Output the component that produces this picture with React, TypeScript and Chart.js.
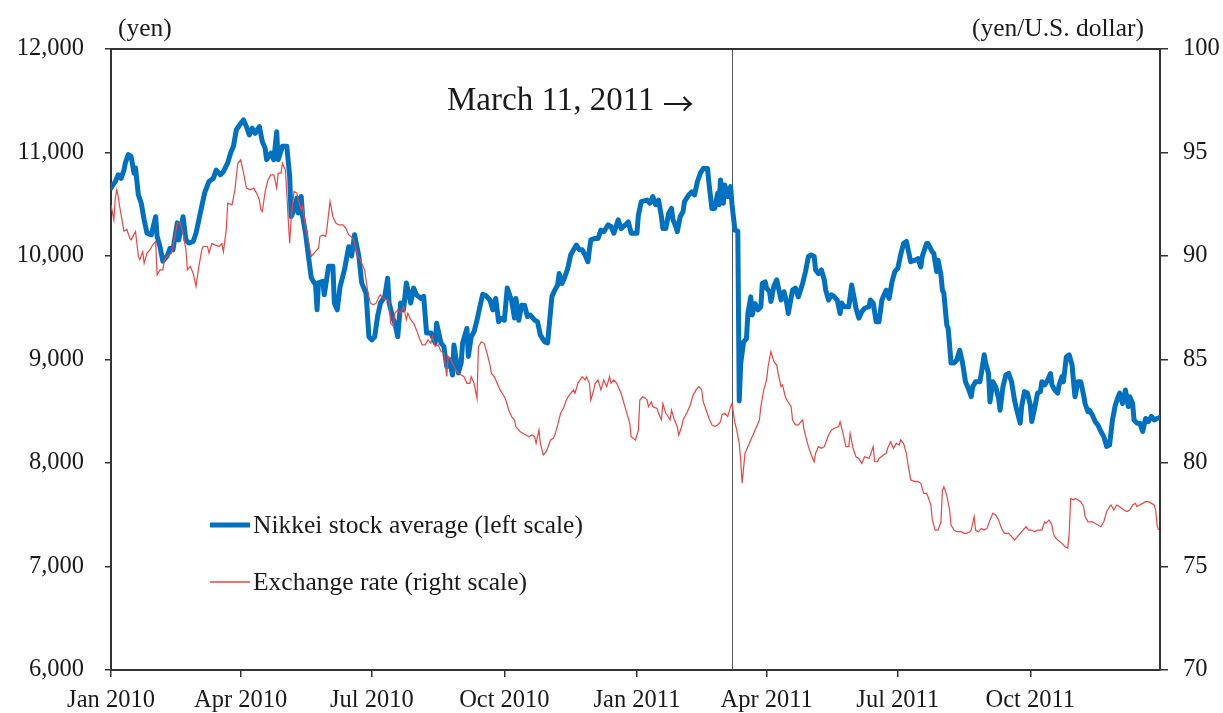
import React, { useEffect, useRef } from 'react';
import { Chart, registerables } from 'chart.js';

Chart.register(...registerables);

// x values are days since 1 Jan 2010
const tickDays = [0, 90, 181, 273, 365, 455, 546, 638];
const tickLabels = ['Jan 2010', 'Apr 2010', 'Jul 2010', 'Oct 2010', 'Jan 2011', 'Apr 2011', 'Jul 2011', 'Oct 2011'];
const xMax = 728;
const quakeLineDay = 431;

const leftMin = 6000;
const leftMax = 12000;
const leftStep = 1000;
const rightMin = 70;
const rightMax = 100;
const rightStep = 5;

// Nikkei stock average (yen, left scale)
const nikkeiDays = [
  0, 3, 5, 7, 9, 10, 12, 14, 16, 17, 19, 21, 23, 25, 28, 31, 32, 34, 36, 39, 41, 43, 46, 47, 50, 52, 54, 57, 59, 61,
  63, 65, 68, 71, 73, 76, 78, 81, 83, 85, 87, 90, 92, 94, 96, 98, 100, 103, 105, 107, 108, 111, 113, 115, 116, 119, 122, 124, 125, 127,
  129, 130, 132, 133, 135, 137, 139, 142, 143, 144, 147, 148, 151, 154, 155, 157, 159, 162, 165, 167, 169, 172, 174, 177, 179, 181, 183, 185, 187, 190,
  192, 193, 196, 197, 199, 201, 203, 205, 208, 210, 212, 215, 217, 219, 222, 225, 226, 229, 231, 233, 235, 237, 238, 241, 243, 244, 247, 248, 250, 252,
  254, 256, 258, 260, 263, 265, 267, 269, 270, 273, 275, 277, 278, 280, 281, 283, 285, 287, 289, 291, 294, 296, 298, 301, 303, 306, 308, 310, 311, 313,
  315, 317, 319, 321, 323, 325, 327, 329, 331, 332, 333, 336, 338, 340, 342, 345, 347, 349, 352, 354, 357, 359, 361, 365, 366, 368, 372, 374, 376, 378,
  380, 382, 383, 385, 387, 389, 390, 392, 393, 395, 397, 398, 401, 403, 405, 407, 409, 411, 414, 415, 417, 419, 421, 422, 423, 425, 426, 428, 430, 431,
  433, 435, 436, 437, 439, 441, 442, 444, 445, 447, 449, 451, 452, 454, 455, 457, 458, 460, 462, 463, 465, 467, 469, 470, 473, 475, 477, 480, 482, 484,
  486, 488, 489, 491, 493, 495, 496, 498, 500, 502, 504, 506, 507, 509, 512, 514, 516, 517, 519, 521, 523, 526, 527, 529, 531, 533, 535, 537, 538, 540,
  542, 544, 546, 548, 550, 552, 555, 558, 560, 562, 563, 566, 567, 570, 571, 573, 574, 576, 577, 578, 580, 581, 583, 585, 587, 589, 591, 593, 595, 597,
  598, 600, 603, 604, 606, 607, 609, 610, 612, 614, 616, 617, 619, 621, 623, 625, 627, 628, 631, 632, 634, 636, 638, 639, 641, 643, 645, 646, 648, 650,
  652, 653, 655, 657, 658, 660, 661, 663, 665, 667, 668, 669, 671, 673, 675, 676, 678, 679, 681, 683, 685, 687, 689, 691, 693, 695, 697, 699, 700, 702,
  704, 706, 707, 709, 710, 712, 714, 716, 718, 720, 722, 724, 726, 728,
];
const nikkeiValues = [
  10655, 10720, 10785, 10750, 10830, 10900, 10980, 10960, 10800, 10850, 10590, 10510, 10350, 10220, 10205, 10380, 10190, 10090, 9950, 10000, 10075, 10060, 10320, 10155, 10380, 10155, 10125, 10140, 10220, 10350,
  10480, 10610, 10720, 10750, 10830, 10785, 10815, 10900, 10995, 11060, 11220, 11280, 11315, 11250, 11170, 11235, 11185, 11250, 11105, 11040, 10930, 10995, 10930, 11200, 10930, 11060, 11060, 10770, 10380, 10445,
  10560, 10415, 10575, 10380, 10220, 10000, 9790, 9720, 9480, 9740, 9755, 9625, 9900, 9900, 9545, 9480, 9705, 9865, 10090, 10000, 10205, 10000, 9740, 9640, 9220, 9190, 9220, 9415, 9545, 9610,
  9785, 9545, 9385, 9350, 9220, 9545, 9480, 9740, 9545, 9690, 9625, 9590, 9610, 9255, 9255, 9160, 9350, 9160, 9125, 8930, 9000, 8850, 9140, 8870, 8965, 9160, 9300, 9030, 9220, 9270,
  9380, 9510, 9630, 9620, 9575, 9480, 9590, 9365, 9400, 9380, 9690, 9610, 9575, 9400, 9590, 9380, 9525, 9525, 9415, 9430, 9380, 9365, 9235, 9170, 9160, 9610, 9670, 9720, 9830, 9735,
  9800, 9880, 10010, 10060, 10105, 10060, 10060, 10010, 9945, 10060, 10155, 10170, 10170, 10250, 10235, 10300, 10285, 10220, 10350, 10265, 10300, 10330, 10220, 10220, 10395, 10525, 10540, 10510, 10575, 10495,
  10540, 10380, 10265, 10265, 10410, 10460, 10350, 10285, 10235, 10380, 10430, 10525, 10590, 10620, 10590, 10720, 10800, 10845, 10845, 10700, 10460, 10460, 10605, 10495, 10735, 10510, 10685, 10575, 10670, 10495,
  10250, 10240, 8600, 8960, 9170, 9200, 9445, 9605, 9430, 9540, 9480, 9510, 9735, 9750, 9690, 9655, 9560, 9705, 9770, 9705, 9575, 9655, 9540, 9445, 9670, 9690, 9605, 9735, 9850, 9995,
  10010, 9995, 9865, 9830, 9865, 9770, 9670, 9575, 9625, 9605, 9575, 9445, 9545, 9510, 9510, 9720, 9575, 9495, 9400, 9460, 9495, 9510, 9575, 9545, 9365, 9365, 9575, 9640, 9670, 9590,
  9750, 9850, 9880, 10010, 10120, 10140, 9945, 9960, 9975, 9895, 9995, 10120, 10120, 10040, 10025, 9850, 9960, 9815, 9670, 9640, 9335, 9300, 8965, 8965, 8995, 9090, 8965, 8785, 8720, 8640,
  8735, 8785, 8785, 8865, 9045, 8965, 8865, 8590, 8785, 8735, 8625, 8510, 8735, 8850, 8865, 8785, 8610, 8545, 8385, 8545, 8690, 8675, 8560, 8400, 8530, 8675, 8690, 8785, 8755, 8800,
  8865, 8755, 8705, 8675, 8755, 8835, 8785, 9025, 9045, 8945, 8785, 8640, 8785, 8785, 8655, 8575, 8495, 8510, 8465, 8400, 8365, 8305, 8255, 8160, 8175, 8415, 8560, 8640, 8675, 8575,
  8705, 8545, 8640, 8575, 8415, 8385, 8385, 8305, 8430, 8400, 8450, 8415, 8430, 8440,
];

// Exchange rate (yen per U.S. dollar, right scale)
const yenDays = [
  0, 2, 3, 4, 5, 6, 8, 9, 11, 13, 14, 17, 19, 20, 22, 23, 25, 27, 29, 31, 32, 34, 36, 37, 39, 42, 44, 46, 48, 50,
  52, 53, 55, 57, 59, 61, 63, 64, 67, 68, 70, 72, 75, 77, 78, 80, 81, 84, 86, 88, 90, 92, 94, 97, 99, 101, 103, 104, 105, 107,
  109, 111, 113, 115, 116, 118, 119, 121, 122, 123, 124, 125, 127, 129, 130, 132, 133, 135, 137, 139, 140, 142, 144, 145, 147, 149, 150, 152, 154, 156,
  158, 161, 163, 165, 168, 169, 171, 173, 174, 176, 178, 180, 182, 184, 186, 187, 189, 192, 193, 194, 196, 197, 199, 201, 203, 205, 206, 208, 210, 212,
  214, 216, 218, 220, 222, 223, 225, 227, 229, 231, 233, 234, 236, 238, 240, 241, 243, 245, 247, 249, 250, 252, 254, 255, 257, 259, 261, 263, 264, 266,
  268, 270, 273, 274, 276, 278, 280, 281, 284, 286, 288, 290, 292, 294, 295, 297, 298, 300, 302, 303, 305, 307, 308, 310, 312, 314, 316, 318, 321, 322,
  324, 327, 329, 330, 332, 333, 335, 336, 338, 340, 342, 344, 346, 347, 349, 351, 353, 354, 356, 358, 360, 361, 364, 366, 367, 369, 371, 372, 373, 375,
  376, 379, 380, 382, 383, 385, 386, 388, 389, 391, 393, 394, 396, 397, 400, 402, 404, 406, 408, 410, 411, 413, 415, 417, 419, 421, 423, 424, 426, 428,
  430, 431, 433, 434, 436, 437, 438, 440, 441, 443, 445, 447, 448, 450, 451, 453, 455, 456, 458, 460, 462, 463, 465, 466, 468, 469, 472, 473, 475, 477,
  480, 481, 484, 486, 488, 489, 491, 493, 495, 498, 500, 502, 505, 506, 508, 510, 512, 513, 515, 517, 519, 521, 523, 526, 527, 529, 530, 532, 533, 536,
  538, 539, 541, 543, 545, 547, 548, 550, 552, 553, 555, 558, 560, 562, 564, 566, 567, 569, 570, 572, 574, 576, 577, 578, 580, 582, 583, 585, 587, 590,
  592, 594, 596, 597, 599, 600, 602, 604, 606, 608, 610, 612, 614, 616, 618, 620, 623, 625, 627, 629, 631, 633, 635, 637, 639, 641, 643, 646, 648, 649,
  651, 653, 654, 655, 657, 660, 662, 664, 665, 666, 668, 669, 671, 673, 675, 676, 678, 681, 683, 685, 687, 689, 691, 693, 694, 696, 698, 700, 703, 705,
  707, 709, 711, 712, 714, 716, 718, 720, 722, 724, 725, 726, 727,
];
const yenValues = [
  92.47, 91.75, 92.8, 93.2, 92.87, 92.4, 91.6, 91.2, 91.28, 90.86, 90.78, 91.18, 89.98, 89.82, 90.2, 89.65, 90.14, 90.3, 90.54, 90.7, 89.09, 89.33, 89.33, 89.8, 89.98, 90.14, 90.78, 91.59, 91.59, 91.1,
  90.3, 89.33, 89.5, 89.17, 88.53, 89.5, 90.3, 90.46, 90.46, 90.14, 90.6, 90.54, 90.46, 90.6, 90.2, 91.26, 92.55, 92.47, 93.2, 94.48, 94.65, 94.0, 93.28, 93.2, 93.28, 93.04, 92.71, 92.23, 92.15, 93.12,
  93.68, 93.92, 93.92, 93.28, 94.0, 94.0, 94.48, 94.16, 93.04, 91.75, 90.62, 91.75, 93.12, 93.04, 92.71, 92.23, 92.4, 91.42, 90.7, 89.98, 90.06, 90.22, 90.38, 90.94, 91.02, 90.94, 91.42, 92.63, 91.9, 91.59,
  91.5, 91.5, 91.34, 91.02, 90.86, 90.62, 90.06, 89.82, 89.65, 89.33, 88.37, 87.72, 87.64, 87.72, 88.04, 88.12, 87.96, 87.88, 87.8, 86.76, 86.6, 87.24, 87.4, 87.24, 87.56, 86.92, 87.24, 86.92, 86.76, 86.43,
  86.03, 85.71, 85.71, 85.95, 85.79, 86.11, 85.63, 85.71, 85.39, 85.31, 84.18, 85.15, 84.98, 84.66, 84.42, 84.34, 84.25, 84.17, 83.85, 83.85, 84.17, 83.85, 83.12, 85.62, 85.86, 85.78, 85.3, 84.73, 84.33, 84.17,
  83.85, 83.53, 83.2, 83.04, 82.56, 82.24, 82.08, 81.75, 81.51, 81.43, 81.35, 81.27, 81.35, 81.27, 80.95, 81.59, 80.95, 80.39, 80.55, 80.71, 81.11, 81.19, 81.35, 81.84, 82.4, 82.64, 83.04, 83.28, 83.53, 83.37,
  83.85, 84.17, 84.01, 84.17, 83.85, 83.04, 83.53, 83.85, 84.01, 83.53, 84.01, 83.69, 84.17, 83.85, 84.01, 83.85, 83.53, 83.37, 82.88, 82.4, 81.92, 81.27, 81.11, 81.59, 83.04, 83.2, 83.12, 83.04, 82.72, 82.96,
  82.72, 82.64, 82.4, 82.08, 82.88, 82.4, 82.32, 82.08, 82.56, 82.08, 81.75, 81.35, 81.75, 82.08, 82.48, 82.8, 83.28, 83.53, 83.69, 83.53, 82.96, 82.56, 82.16, 81.84, 81.76, 81.84, 82.0, 82.32, 82.4, 82.24,
  82.72, 82.88, 81.92, 81.68, 80.95, 80.14, 79.02, 80.47, 80.63, 80.95, 81.27, 81.59, 81.75, 82.08, 82.72, 83.53, 84.01, 84.65, 85.38, 84.9, 84.73, 84.33, 83.69, 83.77, 83.2, 83.04, 82.72, 82.08, 81.84, 81.84,
  82.08, 81.59, 80.79, 80.39, 80.06, 80.47, 80.79, 80.71, 80.79, 81.35, 81.6, 81.68, 81.76, 81.99, 81.43, 80.79, 80.79, 81.43, 80.71, 80.3, 80.22, 79.98, 80.3, 80.22, 80.39, 80.79, 80.06, 80.06, 80.22, 80.39,
  80.47, 80.71, 81.03, 80.71, 80.95, 80.87, 81.11, 80.95, 80.47, 79.98, 79.18, 79.1, 79.1, 79.02, 78.53, 78.53, 78.37, 77.97, 77.25, 76.76, 76.76, 77.16, 78.69, 78.86, 78.45, 77.73, 77.0, 76.76, 76.68, 76.68,
  76.6, 76.6, 76.68, 76.76, 77.41, 76.76, 76.68, 76.84, 76.76, 76.84, 77.25, 77.57, 77.49, 77.25, 76.84, 76.6, 76.6, 76.44, 76.28, 76.44, 76.6, 76.76, 76.92, 76.76, 76.76, 76.68, 76.76, 76.76, 77.16, 77.09,
  77.25, 77.0, 76.6, 76.44, 76.28, 76.12, 75.96, 75.88, 76.6, 78.29, 78.21, 78.29, 78.21, 78.13, 77.89, 77.41, 77.16, 77.16, 77.08, 77.0, 76.92, 77.16, 77.65, 77.89, 77.97, 77.73, 77.97, 77.89, 77.73, 77.65,
  77.73, 77.97, 78.05, 77.89, 77.97, 78.05, 78.13, 78.13, 78.05, 77.97, 77.73, 77.0, 76.76,
];

const leftUnit = '(yen)';
const rightUnit = '(yen/U.S. dollar)';
const annotationText = 'March 11, 2011 ';
const annotationArrow = '\u2192';
const nikkeiLabel = 'Nikkei stock average (left scale)';
const yenLabel = 'Exchange rate (right scale)';

const SERIF = "'Liberation Serif', 'Times New Roman', serif";
const CJK = "'Noto Sans CJK JP', sans-serif";
const TEXT = '#1a1a1a';
const AXIS = '#333333';
const BLUE = 'rgb(0,112,192)';
const RED = 'rgb(242,66,66)';

export default function App() {
  const ref = useRef<HTMLCanvasElement>(null);

  useEffect(() => {
    if (!ref.current) return;

    const overlay = {
      id: 'overlay',
      beforeDatasetsDraw(chart: any) {
        const { ctx, chartArea } = chart;
        const x = chart.scales.x.getPixelForValue(quakeLineDay);
        ctx.save();
        ctx.strokeStyle = '#555';
        ctx.lineWidth = 1;
        ctx.beginPath();
        ctx.moveTo(Math.round(x) + 0.5, chartArea.top);
        ctx.lineTo(Math.round(x) + 0.5, chartArea.bottom);
        ctx.stroke();
        ctx.restore();
      },
      afterDraw(chart: any) {
        const { ctx, chartArea } = chart;
        ctx.save();
        // top frame
        ctx.strokeStyle = AXIS;
        ctx.lineWidth = 2;
        ctx.beginPath();
        ctx.moveTo(chartArea.left, chartArea.top);
        ctx.lineTo(chartArea.right, chartArea.top);
        ctx.stroke();

        ctx.fillStyle = TEXT;
        ctx.textBaseline = 'middle';
        ctx.font = `25.5px ${SERIF}`;
        ctx.textAlign = 'left';
        ctx.fillText(leftUnit, 118, 29);
        ctx.textAlign = 'right';
        ctx.fillText(rightUnit, 1144, 29);

        ctx.textAlign = 'left';
        ctx.font = `33px ${SERIF}`;
        ctx.fillText(annotationText, 447, 101);
        const w = ctx.measureText(annotationText).width;
        ctx.font = `31px ${CJK}`;
        ctx.fillText(annotationArrow, 447 + w, 103);

        // legend
        ctx.font = `25.5px ${SERIF}`;
        ctx.lineCap = 'butt';
        ctx.strokeStyle = BLUE;
        ctx.lineWidth = 5;
        ctx.beginPath();
        ctx.moveTo(210, 525);
        ctx.lineTo(250, 525);
        ctx.stroke();
        ctx.fillText(nikkeiLabel, 253, 526);

        ctx.strokeStyle = RED;
        ctx.lineWidth = 1.3;
        ctx.beginPath();
        ctx.moveTo(210, 582);
        ctx.lineTo(250, 582);
        ctx.stroke();
        ctx.fillText(yenLabel, 253, 583);
        ctx.restore();
      },
    };

    const tickFont = { family: SERIF, size: 24.5 };

    const chart = new Chart(ref.current, {
      type: 'line',
      data: {
        datasets: [
          {
            label: yenLabel,
            data: yenDays.map((d, i) => ({ x: d, y: yenValues[i] })),
            yAxisID: 'y1',
            borderColor: RED,
            borderWidth: 1.2,
            pointRadius: 0,
            tension: 0,
            order: 0,
          },
          {
            label: nikkeiLabel,
            data: nikkeiDays.map((d, i) => ({ x: d, y: nikkeiValues[i] })),
            yAxisID: 'y',
            borderColor: BLUE,
            borderWidth: 5,
            borderJoinStyle: 'round',
            borderCapStyle: 'round',
            pointRadius: 0,
            tension: 0,
            order: 1,
          },
        ],
      },
      options: {
        responsive: false,
        animation: false,
        events: [],
        layout: { padding: { top: 49, left: 0, right: 0, bottom: 0 } },
        plugins: {
          legend: { display: false },
          tooltip: { enabled: false },
        },
        scales: {
          x: {
            type: 'linear',
            min: 0,
            max: xMax,
            afterBuildTicks: (s: any) => {
              s.ticks = tickDays.map((v) => ({ value: v }));
            },
            afterFit: (s: any) => {
              s.height = 43;
            },
            ticks: {
              autoSkip: false,
              maxRotation: 0,
              minRotation: 0,
              padding: 9,
              color: TEXT,
              font: tickFont,
              callback: (v: any) => {
                const i = tickDays.indexOf(Number(v));
                return i >= 0 ? tickLabels[i] : '';
              },
            },
            grid: { drawOnChartArea: false, drawTicks: true, tickLength: 7, color: AXIS, lineWidth: 1.5 },
            border: { display: true, color: AXIS, width: 2 },
          },
          y: {
            position: 'left',
            min: leftMin,
            max: leftMax,
            afterFit: (s: any) => {
              s.width = 111;
            },
            ticks: {
              stepSize: leftStep,
              padding: 21,
              color: TEXT,
              font: tickFont,
              callback: (v: any) => Number(v).toLocaleString('en-US'),
            },
            grid: { drawOnChartArea: false, drawTicks: true, tickLength: 6, color: AXIS, lineWidth: 1.5 },
            border: { display: true, color: AXIS, width: 2 },
          },
          y1: {
            position: 'right',
            min: rightMin,
            max: rightMax,
            afterFit: (s: any) => {
              s.width = 63;
            },
            ticks: {
              stepSize: rightStep,
              padding: 15,
              color: TEXT,
              font: tickFont,
            },
            grid: { drawOnChartArea: false, drawTicks: true, tickLength: 8, color: AXIS, lineWidth: 1.5 },
            border: { display: true, color: AXIS, width: 2 },
          },
        },
      },
      plugins: [overlay],
    } as any);

    return () => chart.destroy();
  }, []);

  return (
    <div style={{ position: 'fixed', left: 0, top: 0, width: 1223, height: 713, background: '#fff' }}>
      <canvas ref={ref} width={1223} height={713} style={{ width: 1223, height: 713, display: 'block' }} />
    </div>
  );
}
